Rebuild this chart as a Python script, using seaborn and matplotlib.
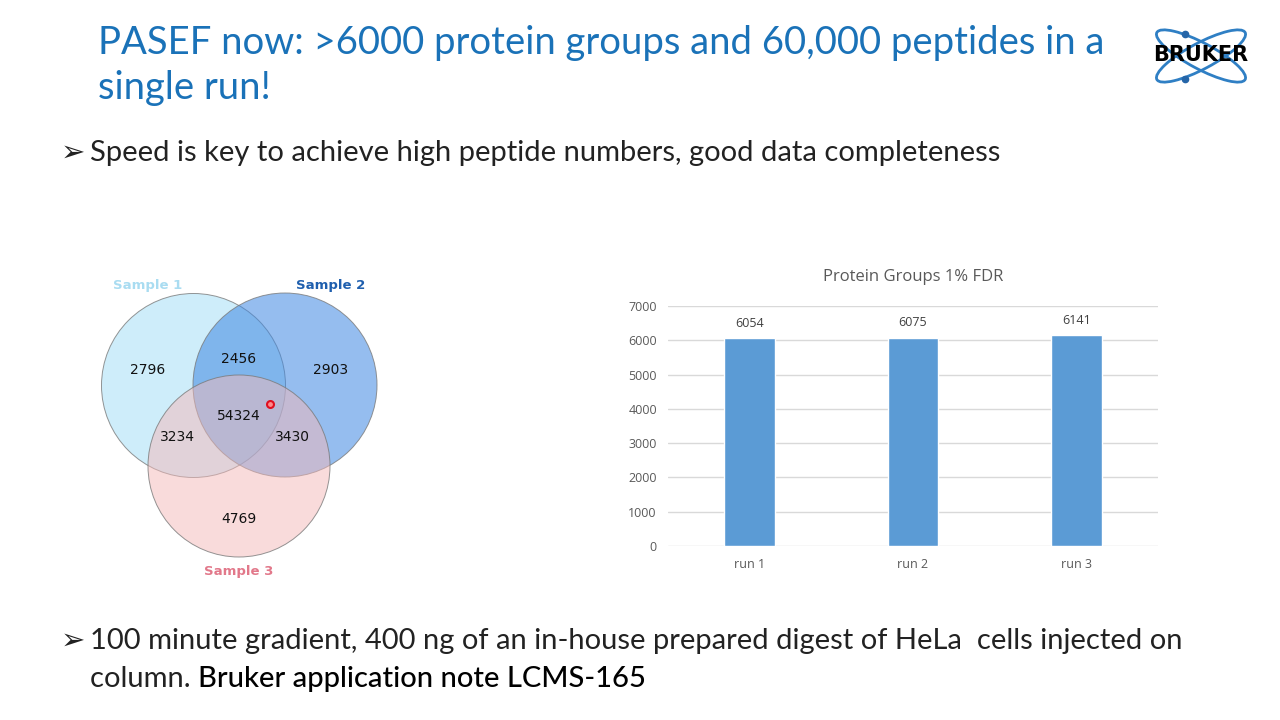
import matplotlib
matplotlib.use("Agg")
import matplotlib.pyplot as plt
from matplotlib.patches import Circle, Ellipse
import pandas as pd
import seaborn as sns

# data
runs = ["run 1", "run 2", "run 3"]
protein_groups = [6054, 6075, 6141]
venn_samples = ["Sample 1", "Sample 2", "Sample 3"]
venn_regions = ["1", "1&2", "2", "1&2&3", "1&3", "2&3", "3"]
venn_counts = [2796, 2456, 2903, 54324, 3234, 3430, 4769]

sns.set_theme(style="white")
plt.rcParams["font.family"] = ["Lato", "DejaVu Sans"]

fig = plt.figure(figsize=(12.8, 7.2), dpi=100)
fig.patch.set_facecolor("white")

# full-slide axes in pixel units
ax0 = fig.add_axes([0, 0, 1, 1])
ax0.set_xlim(0, 1280)
ax0.set_ylim(720, 0)
ax0.axis("off")

title_col = "#1a72b8"
ax0.text(98, 43, "PASEF now: >6000 protein groups and 60,000 peptides in a",
         fontsize=27.5, color=title_col, va="center", ha="left")
ax0.text(98, 88, "single run!", fontsize=27.5, color=title_col, va="center", ha="left")

body = 21
ax0.text(61, 153, "\u27a2", fontsize=21, color="#222222", va="center", ha="left",
         family=["DejaVu Sans"])
ax0.text(90, 153, "Speed is key to achieve high peptide numbers, good data completeness",
         fontsize=body, color="#222222", va="center", ha="left")

ax0.text(61, 641, "\u27a2", fontsize=21, color="#222222", va="center", ha="left",
         family=["DejaVu Sans"])
ax0.text(90, 641, "100 minute gradient, 400 ng of an in-house prepared digest of HeLa  cells injected on",
         fontsize=body, color="#222222", va="center", ha="left")
t1 = ax0.text(90, 679, "column. ", fontsize=body, color="#222222", va="center", ha="left")
ax0.annotate("Bruker application note LCMS-165", xy=(1, 0.5), xycoords=t1,
             fontsize=body, color="black", va="center", ha="left", fontweight="medium")

# venn diagram
circles = [((193.5, 385.5), 92, "#a6dff6", 0.55),
           ((285, 385), 92, "#3f88e2", 0.55),
           ((239, 466), 91, "#f4b9b9", 0.5)]
for (c, r, col, a) in circles:
    ax0.add_patch(Circle(c, r, facecolor=col, alpha=a, edgecolor="none"))
    ax0.add_patch(Circle(c, r, facecolor="none", edgecolor="#7a7a7a", lw=0.7, alpha=0.8))

sample_pos = [(148, 285), (331, 285), (239, 571)]
sample_col = ["#a9dcf1", "#1f5fae", "#e2788a"]
for name, (x, y), col in zip(venn_samples, sample_pos, sample_col):
    ax0.text(x, y, name, fontsize=9.5, color=col, fontweight="bold",
             ha="center", va="center", family=["DejaVu Sans"])

region_pos = [(148, 370), (239, 359), (331, 370), (239, 416), (177, 437), (292, 437), (239, 519)]
for cnt, (x, y) in zip(venn_counts, region_pos):
    ax0.text(x, y, str(cnt), fontsize=10, color="#111111", ha="center", va="center",
             family=["DejaVu Sans"])
ax0.plot(270, 404, marker="o", ms=5, mfc="#ff8a8a", mec="#e01020", mew=1.5)

# logo
logo_col = "#2f7fc4"
ax0.add_patch(Ellipse((1201, 56), 100, 26, angle=28, facecolor="none", edgecolor=logo_col, lw=2))
ax0.add_patch(Ellipse((1201, 56), 100, 26, angle=-28, facecolor="none", edgecolor=logo_col, lw=2))
ax0.plot([1185, 1185], [34, 79], "o", color="#2565a8", ms=4.5)
ax0.text(1201, 55, "BRUKER", fontsize=15, fontweight="heavy", color="black",
         ha="center", va="center", family=["DejaVu Sans"])

# bar chart
ax = fig.add_axes([668 / 1280, 1 - 546 / 720, 490 / 1280, 240 / 720])
df = pd.DataFrame({"run": runs, "groups": protein_groups})
sns.barplot(data=df, x="run", y="groups", color="#5b9bd5", saturation=1, width=0.31, ax=ax)
ax.set_xlim(-0.5, 2.5)
ax.set_ylim(0, 7000)
ax.set_yticks(range(0, 7001, 1000))
ax.set_xlabel("")
ax.set_ylabel("")
for s in ax.spines.values():
    s.set_visible(False)
ax.yaxis.grid(True, color="#d9d9d9", lw=1)
ax.set_axisbelow(True)
ax.tick_params(axis="y", length=0, pad=8, labelsize=9, labelcolor="#595959")
ax.tick_params(axis="x", length=0, pad=9, labelsize=9, labelcolor="#595959")
for lab in ax.get_yticklabels() + ax.get_xticklabels():
    lab.set_family(["Open Sans", "DejaVu Sans"])
ax.bar_label(ax.containers[0], padding=6, fontsize=9, color="#404040",
             family=["Open Sans", "DejaVu Sans"])
ax.set_title("Protein Groups 1% FDR", fontsize=12, color="#595959", pad=18,
             family=["Open Sans", "DejaVu Sans"])

fig.savefig("out.png", dpi=100, facecolor="white")
